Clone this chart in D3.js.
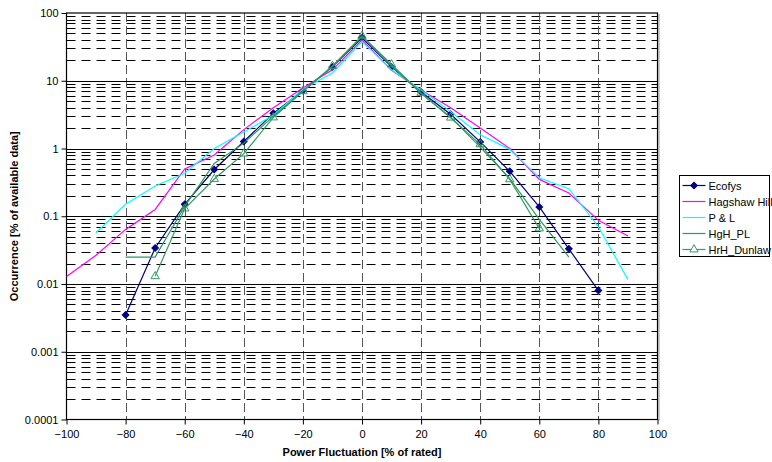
<!DOCTYPE html>
<html>
<head>
<meta charset="utf-8">
<script src="https://cdn.jsdelivr.net/npm/d3@7/dist/d3.min.js"></script>
<style>
  html, body { margin: 0; padding: 0; background: #fff; }
  svg { display: block; font-family: Arial, "Liberation Sans", sans-serif; }
</style>
</head>
<body>
<svg id="chart" width="772" height="462"></svg>
<script>
// Occurrence of power fluctuations, per data set (% of available data)
const ecofysX   = [-80, -70, -60, -50, -40, -30, -20, -10, 0, 10, 20, 30, 40, 50, 60, 70, 80];
const ecofysY   = [0.0035, 0.034, 0.15, 0.49, 1.27, 3.3, 7.2, 16, 43, 16, 6.8, 3.2, 1.25, 0.46, 0.137, 0.033, 0.008];

const hagshawX  = [-100, -90, -80, -70, -60, -50, -40, -30, -20, -10, 0, 10, 20, 30, 40, 50, 60, 70, 80, 90];
const hagshawY  = [0.0129, 0.0265, 0.064, 0.126, 0.5, 0.8, 1.9, 4.0, 7.8, 14.5, 40, 14.3, 7.3, 4.0, 2.0, 1.0, 0.35, 0.22, 0.087, 0.051];

const plX       = [-90, -80, -70, -60, -50, -40, -30, -20, -10, 0, 10, 20, 30, 40, 50, 60, 70, 80, 90];
const plY       = [0.057, 0.15, 0.28, 0.43, 1.0, 1.75, 3.1, 7.5, 13, 38, 14.5, 7.3, 3.5, 1.6, 0.97, 0.37, 0.255, 0.07, 0.0116];

const hghPlX    = [-80, -70, -60, -50, -40, -30, -20, -10, 0, 10, 20, 30, 40, 50, 60, 70];
const hghPlY    = [0.025, 0.025, 0.14, 0.6, 1.2, 3.0, 7.0, 16, 45, 16.5, 6.5, 2.9, 1.05, 0.36, 0.09, 0.025];

const dunlawX   = [-70, -60, -50, -40, -30, -20, -10, 0, 10, 20, 30, 40, 50, 60];
const dunlawY   = [0.013, 0.13, 0.355, 0.84, 2.87, 7.0, 16.5, 46, 17.4, 6.6, 2.85, 1.15, 0.35, 0.066];

const seriesNames = ["Ecofys", "Hagshaw Hill", "P & L", "HgH_PL", "HrH_Dunlaw"];
const xTicks = [-100, -80, -60, -40, -20, 0, 20, 40, 60, 80, 100];
const yTicks = [0.0001, 0.001, 0.01, 0.1, 1, 10, 100];
const yTickLabels = ["0.0001", "0.001", "0.01", "0.1", "1", "10", "100"];

const series = [
  { name: seriesNames[0], xs: ecofysX,  ys: ecofysY,  color: "#000080", marker: "diamond" },
  { name: seriesNames[1], xs: hagshawX, ys: hagshawY, color: "#FF00FF", marker: null },
  { name: seriesNames[2], xs: plX,      ys: plY,      color: "#00FFFF", marker: null },
  { name: seriesNames[3], xs: hghPlX,   ys: hghPlY,   color: "#2E9A5E", marker: null },
  { name: seriesNames[4], xs: dunlawX,  ys: dunlawY,  color: "#339966", marker: "triangle" }
];

const svg = d3.select("#chart");
const plot = { left: 66.5, right: 657.5, top: 13, bottom: 419.5 };

const x = d3.scaleLinear().domain([-100, 100]).range([plot.left, plot.right]);
const y = d3.scaleLog().domain([0.0001, 100]).range([plot.bottom, plot.top]);

// Minor horizontal grid (2..9 in each decade), dashed
const minorVals = [];
for (let e = -4; e < 2; e++) {
  for (let m = 2; m <= 9; m++) minorVals.push(m * Math.pow(10, e));
}
svg.append("g").selectAll("line").data(minorVals).join("line")
  .attr("x1", plot.left).attr("x2", plot.right)
  .attr("y1", d => Math.round(y(d)) + 0.5).attr("y2", d => Math.round(y(d)) + 0.5)
  .attr("stroke", "#000").attr("stroke-width", 1)
  .attr("stroke-dasharray", "9,6");

// Vertical grid, dashed gray
svg.append("g").selectAll("line").data(xTicks.slice(1, -1)).join("line")
  .attr("x1", d => Math.round(x(d)) + 0.5).attr("x2", d => Math.round(x(d)) + 0.5)
  .attr("y1", plot.top).attr("y2", plot.bottom)
  .attr("stroke", "#555").attr("stroke-width", 1)
  .attr("stroke-dasharray", "9,4");

// Major horizontal grid at decades
svg.append("g").selectAll("line").data(yTicks.slice(1, -1)).join("line")
  .attr("x1", plot.left).attr("x2", plot.right)
  .attr("y1", d => Math.round(y(d)) + 0.5).attr("y2", d => Math.round(y(d)) + 0.5)
  .attr("stroke", "#000").attr("stroke-width", 1);

// Plot frame, with a faint shadow on the right edge
svg.append("line")
  .attr("x1", plot.right + 1.5).attr("x2", plot.right + 1.5)
  .attr("y1", plot.top + 1).attr("y2", plot.bottom + 1)
  .attr("stroke", "#999").attr("stroke-width", 1);
svg.append("rect")
  .attr("x", plot.left).attr("y", plot.top)
  .attr("width", plot.right - plot.left).attr("height", plot.bottom - plot.top)
  .attr("fill", "none").attr("stroke", "#000").attr("stroke-width", 1.2);

// Axes
const xAxis = d3.axisBottom(x).tickValues(xTicks).tickSize(5).tickPadding(6).tickFormat(d3.format("d"));
const gx = svg.append("g").attr("transform", `translate(0,${plot.bottom})`).call(xAxis);
gx.select(".domain").remove();
gx.selectAll("text").attr("font-size", 11).attr("fill", "#000").attr("font-family", "Arial, 'Liberation Sans', sans-serif");

const yAxis = d3.axisLeft(y).tickValues(yTicks).tickSize(5).tickPadding(3)
  .tickFormat((d, i) => yTickLabels[i]);
const gy = svg.append("g").attr("transform", `translate(${plot.left},0)`).call(yAxis);
gy.select(".domain").remove();
gy.selectAll("text").attr("font-size", 11).attr("fill", "#000").attr("font-family", "Arial, 'Liberation Sans', sans-serif");

// Axis titles
svg.append("text")
  .attr("x", (plot.left + plot.right) / 2).attr("y", 456)
  .attr("text-anchor", "middle").attr("font-size", 11).attr("font-weight", "bold")
  .text("Power Fluctuation [% of rated]");
svg.append("text")
  .attr("transform", `translate(18,${(plot.top + plot.bottom) / 2}) rotate(-90)`)
  .attr("text-anchor", "middle").attr("font-size", 11).attr("font-weight", "bold")
  .text("Occurrence [% of available data]");

// Series lines and markers
const line = d3.line().x(d => x(d[0])).y(d => y(d[1]));
const symbols = { diamond: d3.symbol().type(d3.symbolSquare).size(22),
                  triangle: d3.symbol().type(d3.symbolTriangle).size(30) };
const markerTransform = (m, px, py) =>
  m === "diamond" ? `translate(${px},${py}) rotate(45)` : `translate(${px},${py})`;

series.forEach(s => {
  const pts = s.xs.map((v, i) => [v, s.ys[i]]);
  svg.append("path").datum(pts)
    .attr("d", line).attr("fill", "none")
    .attr("stroke", s.color).attr("stroke-width", 1.2);
  if (s.marker) {
    svg.append("g").selectAll("path").data(pts).join("path")
      .attr("transform", d => markerTransform(s.marker, x(d[0]), y(d[1])))
      .attr("d", symbols[s.marker])
      .attr("fill", s.marker === "triangle" ? "none" : s.color)
      .attr("stroke", s.color).attr("stroke-width", 1);
  }
});

// Legend
const legend = svg.append("g").attr("transform", "translate(679.5,175.5)");
legend.append("rect").attr("width", 90).attr("height", 81)
  .attr("fill", "#fff").attr("stroke", "#000").attr("stroke-width", 1);
series.forEach((s, i) => {
  const ly = 10 + i * 16;
  const row = legend.append("g").attr("transform", `translate(0,${ly})`);
  row.append("line").attr("x1", 3).attr("x2", 26).attr("y1", 0).attr("y2", 0)
    .attr("stroke", s.color).attr("stroke-width", 1.2);
  if (s.marker) {
    row.append("path").attr("transform", markerTransform(s.marker, 14.5, 0))
      .attr("d", symbols[s.marker])
      .attr("fill", s.marker === "triangle" ? "#fff" : s.color)
      .attr("stroke", s.color).attr("stroke-width", 1);
  }
  row.append("text").attr("x", 29).attr("y", 4).attr("font-size", 11).attr("fill", "#000")
    .text(s.name);
});
</script>
</body>
</html>
